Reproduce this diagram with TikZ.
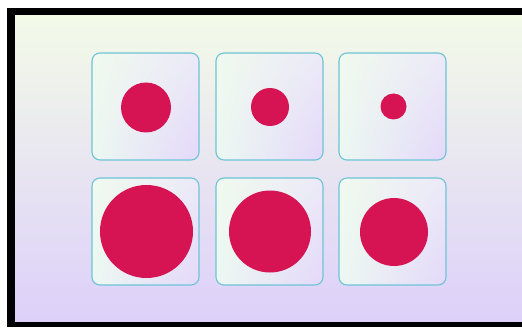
\documentclass[tikz,border=0pt]{standalone}
\usetikzlibrary{shapes.geometric,shadings}
\definecolor{bgtop}{RGB}{243,250,232}
\definecolor{bgbot}{RGB}{221,208,250}
\definecolor{boxline}{RGB}{110,196,214}
\definecolor{boxul}{RGB}{240,250,238}
\definecolor{boxur}{RGB}{236,234,248}
\definecolor{boxll}{RGB}{236,248,242}
\definecolor{boxlr}{RGB}{228,216,250}
\definecolor{dotred}{RGB}{214,20,84}
\tikzset{
  tile/.style={rectangle, rounded corners=8pt, minimum width=107pt, minimum height=107pt,
    draw=boxline, line width=1.1pt, inner sep=0pt,
    upper left=boxul, upper right=boxur, lower left=boxll, lower right=boxlr},
  dot/.style={circle, fill=dotred, draw=none, inner sep=0pt}
}
\begin{document}
\begin{tikzpicture}[x=1pt,y=1pt]
\useasboundingbox (0,0) rectangle (522,327);
\fill[white] (0,0) rectangle (522,327);
\fill[black] (7,0) rectangle (522,319);
\shade[top color=bgtop, bottom color=bgbot] (15,6) rectangle (522,311);
% tiles
\node[tile] (b1) at (145.5,220.5) {};
\node[tile] (b2) at (269.5,220.5) {};
\node[tile] (b3) at (392.5,220.5) {};
\node[tile] (b4) at (145.5,95.5) {};
\node[tile] (b5) at (269.5,95.5) {};
\node[tile] (b6) at (392.5,95.5) {};
% dots
\node[dot, minimum size=50pt] (c1) at ([xshift=0.5pt,yshift=-1pt]b1.center) {};
\node[dot, minimum size=38pt] (c2) at ([xshift=0.5pt,yshift=-0.5pt]b2.center) {};
\node[dot, minimum size=26pt] (c3) at ([xshift=1pt]b3.center) {};
\node[dot, minimum size=93pt] (c4) at ([xshift=1pt]b4.center) {};
\node[dot, minimum size=82pt] (c5) at ([xshift=0.5pt]b5.center) {};
\node[dot, minimum size=68pt] (c6) at ([xshift=1.5pt,yshift=-0.5pt]b6.center) {};
\end{tikzpicture}
\end{document}
